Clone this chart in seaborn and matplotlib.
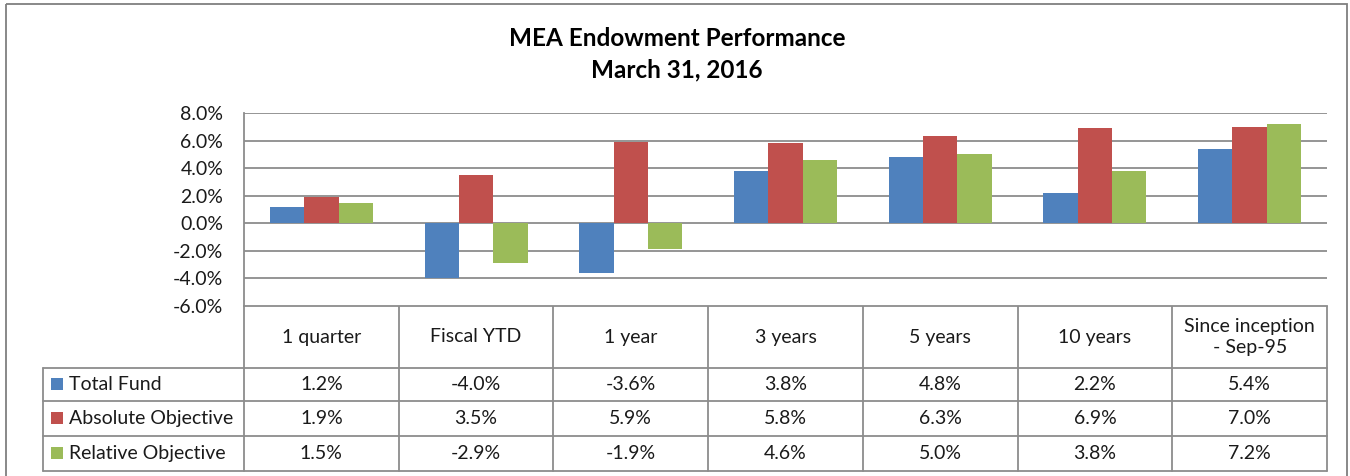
import matplotlib
matplotlib.use("Agg")
import matplotlib.pyplot as plt
from matplotlib.patches import Rectangle
import seaborn as sns
import pandas as pd

categories = ["1 quarter", "Fiscal YTD", "1 year", "3 years", "5 years", "10 years",
              "Since inception\n- Sep-95"]
series_names = ["Total Fund", "Absolute Objective", "Relative Objective"]
total_fund = [1.2, -4.0, -3.6, 3.8, 4.8, 2.2, 5.4]
absolute_objective = [1.9, 3.5, 5.9, 5.8, 6.3, 6.9, 7.0]
relative_objective = [1.5, -2.9, -1.9, 4.6, 5.0, 3.8, 7.2]
y_ticks = [-6, -4, -2, 0, 2, 4, 6, 8]

colors = ["#4F81BD", "#C0504D", "#9BBB59"]
grid_col = "#8C8C8C"
txt_col = "#1A1A1A"
fs = 14

sns.set_style("white")
plt.rcParams['font.family'] = ['Lato', 'DejaVu Sans']

W, H = 1350, 476
fig = plt.figure(figsize=(W / 100, H / 100), dpi=100)

# plot area in pixels
left, right, top, bottom = 244, 1327, 113, 306
ax = fig.add_axes([left / W, 1 - bottom / H, (right - left) / W, (bottom - top) / H])

df = pd.DataFrame({
    "period": categories * 3,
    "series": sum([[s] * len(categories) for s in series_names], []),
    "value": total_fund + absolute_objective + relative_objective,
})
sns.barplot(data=df, x="period", y="value", hue="series", palette=colors, saturation=1,
            width=2 / 3, gap=0, legend=False, ax=ax, edgecolor="none", zorder=3)

ax.set_xlim(-0.5, len(categories) - 0.5)
ax.set_ylim(min(y_ticks), max(y_ticks))
ax.set_yticks(y_ticks)
ax.set_yticklabels([f"{v:.1f}%" for v in y_ticks], fontsize=fs, color=txt_col)
ax.tick_params(axis="y", length=0, pad=15)
ax.set_xticks([])
ax.set_xlabel("")
ax.set_ylabel("")
ax.grid(axis="y", color=grid_col, linewidth=1.3, zorder=0)
ax.set_axisbelow(True)
for side in ["top", "right", "bottom"]:
    ax.spines[side].set_visible(False)
ax.spines["left"].set_color(grid_col)
ax.spines["left"].set_linewidth(1.3)

# overlay in pixel coordinates for title, table and frame
ov = fig.add_axes([0, 0, 1, 1], zorder=-1)
ov.set_xlim(0, W)
ov.set_ylim(H, 0)
ov.axis("off")
ov.patch.set_alpha(0)

ov.add_patch(Rectangle((6, 4), 1341, 480, fill=False, edgecolor="#7F7F7F", linewidth=1.3))

ov.text(677, 38, "MEA Endowment Performance", ha="center", va="center",
        fontsize=17.5, fontweight="bold", color="#000000")
ov.text(677, 70, "March 31, 2016", ha="center", va="center",
        fontsize=17.5, fontweight="bold", color="#000000")

# data table
col_w = (right - left) / len(categories)
label_left = 43
rows_y = [306, 368, 401, 436, 471]
lw = 1.3
ov.plot([left, right], [rows_y[0], rows_y[0]], color=grid_col, lw=lw)
for y in rows_y[1:]:
    ov.plot([label_left, right], [y, y], color=grid_col, lw=lw)
for i in range(len(categories) + 1):
    x = left + i * col_w
    ov.plot([x, x], [rows_y[0], rows_y[-1]], color=grid_col, lw=lw)
ov.plot([label_left, label_left], [rows_y[1], rows_y[-1]], color=grid_col, lw=lw)

for i, cat in enumerate(categories):
    cx = left + (i + 0.5) * col_w
    ov.text(cx, (rows_y[0] + rows_y[1]) / 2, cat, ha="center", va="center",
            fontsize=fs, color=txt_col, linespacing=1.35)

series_vals = [total_fund, absolute_objective, relative_objective]
for r, (name, vals, c) in enumerate(zip(series_names, series_vals, colors)):
    cy = (rows_y[r + 1] + rows_y[r + 2]) / 2
    ov.add_patch(Rectangle((51, cy - 7), 12, 12, color=c, linewidth=0))
    ov.text(69, cy, name, ha="left", va="center", fontsize=fs, color=txt_col)
    for i, v in enumerate(vals):
        cx = left + (i + 0.5) * col_w
        ov.text(cx, cy, f"{v:.1f}%", ha="center", va="center", fontsize=fs, color=txt_col)

fig.savefig("out.png", dpi=100)
